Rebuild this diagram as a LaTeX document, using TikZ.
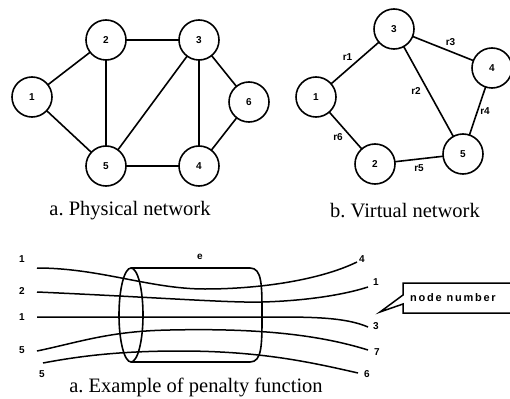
\documentclass[tikz,border=0pt]{standalone}
\usepackage{fontspec}
\setmainfont{Liberation Serif}
\setsansfont{Liberation Sans}
\usepackage{tikz}
\frenchspacing

\begin{document}
\begin{tikzpicture}[x=1pt,y=-1pt]
  \tikzset{VertexStyle/.style = {
    shape         = circle,
    draw          = black,
    fill          = white,
    line width    = 1.6pt,
    text          = black,
    inner sep     = 0pt,
    outer sep     = 0pt,
    minimum size  = 40pt,
    font          = \sffamily\bfseries\fontsize{10}{12}\selectfont
    }
  }
  \tikzset{EdgeStyle/.style = {
    draw          = black,
    line width    = 1.6pt
    }
  }
  \tikzset{EdgeLabelStyle/.style = {
    text          = black,
    inner sep     = 2pt,
    font          = \sffamily\bfseries\fontsize{10}{12}\selectfont
    }
  }
  \tikzset{WireStyle/.style = {
    draw          = black,
    line width    = 1.5pt
    }
  }
  \tikzset{CaptionStyle/.style = {
    text          = black,
    inner sep     = 0pt,
    font          = \fontsize{20.5}{24}\selectfont
    }
  }

  \useasboundingbox (0,0) rectangle (510,398);

  % physical network
	\node[VertexStyle](P1) at (32, 97) {1};
	\node[VertexStyle](P2) at (106, 40) {2};
	\node[VertexStyle](P3) at (199, 40) {3};
	\node[VertexStyle](P4) at (199, 166) {4};
	\node[VertexStyle](P5) at (106, 166) {5};
	\node[VertexStyle](P6) at (249, 102) {6};
	\draw[EdgeStyle](P1) -- (P2);
	\draw[EdgeStyle](P1) -- (P5);
	\draw[EdgeStyle](P2) -- (P3);
	\draw[EdgeStyle](P2) -- (P5);
	\draw[EdgeStyle](P3) -- (P5);
	\draw[EdgeStyle](P3) -- (P4);
	\draw[EdgeStyle](P3) -- (P6);
	\draw[EdgeStyle](P6) -- (P4);
	\draw[EdgeStyle](P5) -- (P4);
	\node[CaptionStyle](CapA) at (130, 211) {a. Physical network};

  % virtual network
	\node[VertexStyle](V1) at (316, 97) {1};
	\node[VertexStyle](V2) at (375, 164) {2};
	\node[VertexStyle](V3) at (394, 29) {3};
	\node[VertexStyle](V4) at (492, 68) {4};
	\node[VertexStyle](V5) at (463, 154) {5};
	\draw[EdgeStyle](V1) -- node[EdgeLabelStyle, above left]{r1} (V3);
	\draw[EdgeStyle](V3) -- node[EdgeLabelStyle, above right]{r3} (V4);
	\draw[EdgeStyle](V3) -- node[EdgeLabelStyle, left=5pt]{r2} (V5);
	\draw[EdgeStyle](V4) -- node[EdgeLabelStyle, right]{r4} (V5);
	\draw[EdgeStyle](V1) -- node[EdgeLabelStyle, below left]{r6} (V2);
	\draw[EdgeStyle](V2) -- node[EdgeLabelStyle, below=3pt]{r5} (V5);
	\node[CaptionStyle](CapB) at (405, 211) {b. Virtual network};

  % cylinder
	\draw[EdgeStyle] (131, 315) ellipse [x radius=12, y radius=47];
	\draw[EdgeStyle] (131, 268) -- (250, 268)
	  .. controls (262, 268) and (262, 285) .. (262, 315)
	  .. controls (262, 345) and (262, 362) .. (250, 362) -- (131, 362);
	\node[EdgeLabelStyle](E) at (200, 257) {e};

  % wires
	\node[EdgeLabelStyle](L1) at (22, 259) {1};
	\node[EdgeLabelStyle](L2) at (22, 291) {2};
	\node[EdgeLabelStyle](L3) at (22, 317) {1};
	\node[EdgeLabelStyle](L4) at (22, 350) {5};
	\node[EdgeLabelStyle](L5) at (42, 374) {5};
	\node[EdgeLabelStyle](R1) at (362, 259) {4};
	\node[EdgeLabelStyle](R2) at (376, 282) {1};
	\node[EdgeLabelStyle](R3) at (376, 326) {3};
	\node[EdgeLabelStyle](R4) at (377, 352) {7};
	\node[EdgeLabelStyle](R5) at (367, 374) {6};
	\coordinate (W1a) at (37, 268);  \coordinate (W1m) at (205, 289); \coordinate (W1b) at (357, 262);
	\coordinate (W2a) at (37, 292);  \coordinate (W2m) at (262, 302); \coordinate (W2b) at (368, 287);
	\coordinate (W3a) at (37, 317);  \coordinate (W3m) at (270, 317); \coordinate (W3b) at (368, 327);
	\coordinate (W4a) at (37, 351);  \coordinate (W4m) at (170, 330); \coordinate (W4b) at (368, 350);
	\coordinate (W5a) at (43, 363);  \coordinate (W5m) at (180, 351); \coordinate (W5b) at (358, 373);
	\draw[WireStyle](W1a) .. controls (100, 268) and (150, 289) .. (W1m)
	  .. controls (260, 289) and (320, 280) .. (W1b);
	\draw[WireStyle](W2a) .. controls (150, 297) and (230, 303) .. (W2m)
	  .. controls (300, 301) and (340, 296) .. (W2b);
	\draw[WireStyle](W3a) -- (W3m) .. controls (310, 317) and (345, 317) .. (W3b);
	\draw[WireStyle](W4a) .. controls (80, 342) and (110, 331) .. (W4m)
	  .. controls (260, 328) and (320, 335) .. (W4b);
	\draw[WireStyle](W5a) .. controls (80, 356) and (120, 351) .. (W5m)
	  .. controls (260, 351) and (310, 362) .. (W5b);

  % callout
	\coordinate (Tip) at (380, 312);
	\draw[WireStyle] (403, 283) -- (515, 283) -- (515, 313) -- (403, 313)
	  -- (403, 304) -- (Tip) -- (403, 295) -- cycle;
	\node[EdgeLabelStyle, anchor=west, font=\sffamily\bfseries\fontsize{11}{13}\selectfont](Callout) at (408, 298)
	  {\addfontfeature{LetterSpace=16}node number};

	\node[CaptionStyle](CapC) at (196, 387) {a. Example of penalty function};

  \end{tikzpicture}
\end{document}
